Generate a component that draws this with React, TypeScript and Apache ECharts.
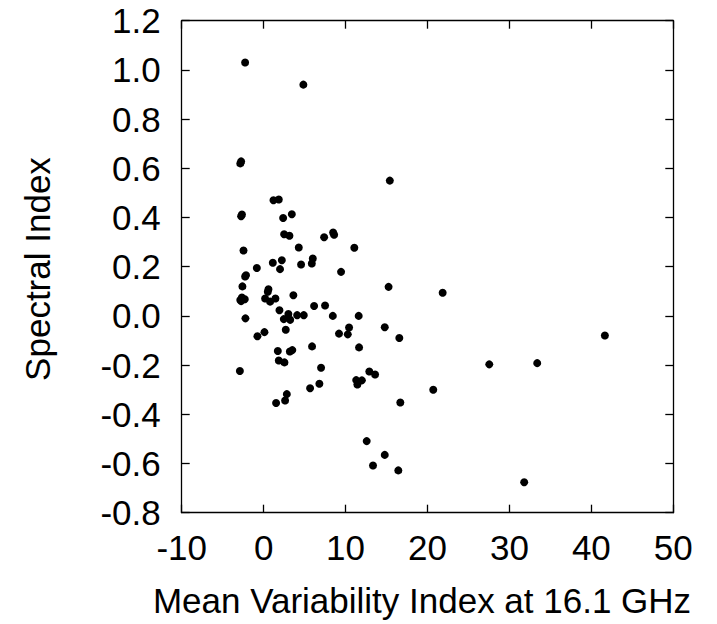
import React, { useEffect, useRef } from "react";
import * as echarts from "echarts";

const xValues: number[] = [
  -2.26, 4.85, -2.85, -2.75, 15.4, 1.2, 1.85, -2.75, -2.65, 2.38,
  3.44, 2.5, 3.15, 7.38, 8.48, 8.6, -2.46, 4.29, 11.07, 1.12,
  2.22, -0.83, 2.0, 4.57, 6.0, 5.88, 9.45, -2.26, -2.15, -2.59,
  15.25, 21.85, -2.85, -2.65, -2.3, -2.75, 0.59, 0.51, 3.63, 0.18,
  0.79, 1.44, 1.93, 6.16, 7.5, 3.02, 4.09, 4.9, 8.44, 11.6,
  -2.22, 2.46, 3.24, 2.7, 0.1, -0.76, 9.2, 10.43, 10.27, 14.78,
  16.56, 41.65, 5.91, 11.65, 3.5, 3.2, 1.73, 1.85, 2.54, 7.01,
  -2.9, 27.54, 33.39, 12.9, 13.6, 11.3, 11.44, 11.99, 6.8, 5.67,
  20.7, 2.83, 2.62, 1.52, 16.68, 12.58, 14.78, 13.35, 16.44, 31.8,
];

const yValues: number[] = [
  1.03, 0.94, 0.62, 0.628, 0.55, 0.47, 0.473, 0.405, 0.412, 0.398,
  0.413, 0.332, 0.326, 0.32, 0.339, 0.33, 0.266, 0.278, 0.277, 0.216,
  0.226, 0.195, 0.19, 0.209, 0.233, 0.213, 0.179, 0.16, 0.165, 0.12,
  0.118, 0.094, 0.065, 0.075, 0.068, 0.06, 0.108, 0.098, 0.084, 0.071,
  0.058, 0.071, 0.023, 0.04, 0.042, 0.008, 0.003, 0.003, 0.0, 0.0,
  -0.01, -0.013, -0.016, -0.056, -0.066, -0.083, -0.072, -0.047, -0.075, -0.046,
  -0.09, -0.08, -0.124, -0.128, -0.139, -0.145, -0.143, -0.181, -0.189, -0.211,
  -0.224, -0.197, -0.192, -0.226, -0.238, -0.261, -0.279, -0.262, -0.276, -0.294,
  -0.3, -0.318, -0.344, -0.354, -0.352, -0.509, -0.565, -0.608, -0.628, -0.676,
];

const xMin = -10;
const xMax = 50;
const xStep = 10;
const yMin = -0.8;
const yMax = 1.2;
const yStep = 0.2;

const xTitle = "Mean Variability Index at 16.1 GHz";
const yTitle = "Spectral Index";

const FONT = "'Liberation Sans', Arial, Helvetica, sans-serif";
const FS = 35;

export default function App() {
  const ref = useRef<HTMLDivElement>(null);

  useEffect(() => {
    document.body.style.margin = "0";
    if (!ref.current) return;
    const chart = echarts.init(ref.current, undefined, { renderer: "svg" });

    const points = xValues.map((x, i) => [x, yValues[i]]);

    const lineStyle = { color: "#000", width: 1.3 };
    const baseX = {
      type: "value" as const,
      min: xMin,
      max: xMax,
      interval: xStep,
      splitLine: { show: false },
      axisLine: { show: true, onZero: false, lineStyle },
      axisTick: { show: true, inside: true, length: 8, lineStyle },
    };
    const baseY = {
      type: "value" as const,
      min: yMin,
      max: yMax,
      interval: yStep,
      splitLine: { show: false },
      axisLine: { show: true, onZero: false, lineStyle },
      axisTick: { show: true, inside: true, length: 8, lineStyle },
    };

    chart.setOption({
      animation: false,
      backgroundColor: "#fff",
      grid: { left: 181.7, top: 20.7, right: 43.7, bottom: 111.3, containLabel: false },
      xAxis: [
        {
          ...baseX,
          position: "bottom",
          axisLabel: {
            show: true,
            color: "#000",
            fontSize: FS,
            fontFamily: FONT,
            margin: 17,
            formatter: (v: number) => String(Math.round(v)),
          },
        },
        { ...baseX, position: "top", axisLabel: { show: false } },
      ],
      yAxis: [
        {
          ...baseY,
          position: "left",
          axisLabel: {
            show: true,
            color: "#000",
            fontSize: FS,
            fontFamily: FONT,
            margin: 21,
            formatter: (v: number) => v.toFixed(1),
          },
        },
        { ...baseY, position: "right", axisLabel: { show: false } },
      ],
      graphic: [
        {
          type: "text",
          x: 422,
          y: 600,
          style: {
            text: xTitle,
            fill: "#000",
            fontSize: FS,
            fontFamily: FONT,
            align: "center",
            verticalAlign: "middle",
          },
        },
        {
          type: "text",
          x: 37,
          y: 269,
          rotation: Math.PI / 2,
          style: {
            text: yTitle,
            fill: "#000",
            fontSize: FS,
            fontFamily: FONT,
            align: "center",
            verticalAlign: "middle",
          },
        },
      ],
      series: [
        {
          type: "scatter",
          xAxisIndex: 0,
          yAxisIndex: 0,
          data: points,
          symbol: "circle",
          symbolSize: 8,
          itemStyle: { color: "#000", opacity: 1 },
        },
      ],
    });

    return () => chart.dispose();
  }, []);

  return (
    <div
      ref={ref}
      style={{ position: "absolute", left: 0, top: 0, width: 717, height: 624, background: "#fff" }}
    />
  );
}
